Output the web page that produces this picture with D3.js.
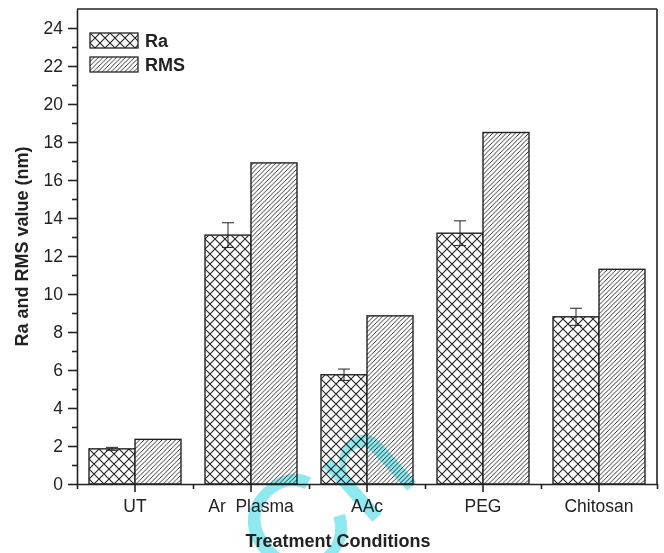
<!DOCTYPE html>
<html>
<head>
<meta charset="utf-8">
<script src="https://cdn.jsdelivr.net/npm/d3@7"></script>
<style>
  body { margin: 0; background: #fff; }
  text { font-family: Arial, "Liberation Sans", sans-serif; fill: #222; }
  .axis path, .axis line { stroke: #222; stroke-width: 1.6; }
  .axis text { font-size: 17.5px; }
</style>
</head>
<body>
<div id="chart"></div>
<script>
// data
const categories = ["UT", "Ar  Plasma", "AAc", "PEG", "Chitosan"];
const raValues = [1.85, 13.1, 5.75, 13.2, 8.8];
const raErrors = [0.08, 0.65, 0.3, 0.65, 0.45];
const rmsValues = [2.35, 16.9, 8.85, 18.5, 11.3];
const series = ["Ra", "RMS"];
const yTicks = [0, 2, 4, 6, 8, 10, 12, 14, 16, 18, 20, 22, 24];

const data = categories.map((c, i) => ({
    cat: c,
    vals: [
        { key: "Ra", v: raValues[i], err: raErrors[i] },
        { key: "RMS", v: rmsValues[i], err: null }
    ]
}));

// dimensions
const W = 664, H = 553;
const margin = { top: 9, right: 7, bottom: 69, left: 77 };
const width = W - margin.left - margin.right;
const height = H - margin.top - margin.bottom;

const root = d3.select("#chart").append("svg")
    .attr("width", W)
    .attr("height", H);

// fill patterns
const defs = root.append("defs");
const cross = defs.append("pattern")
    .attr("id", "cross")
    .attr("patternUnits", "userSpaceOnUse")
    .attr("width", 10).attr("height", 10);
cross.append("rect").attr("width", 10).attr("height", 10).attr("fill", "#fff");
cross.append("path").attr("d", "M0,0L10,10M10,0L0,10M-5,5L5,15M5,-5L15,5M-5,5L5,-5M5,15L15,5")
    .attr("stroke", "#222").attr("stroke-width", 1.1);

const diag = defs.append("pattern")
    .attr("id", "diag")
    .attr("patternUnits", "userSpaceOnUse")
    .attr("width", 4.5).attr("height", 4.5);
diag.append("rect").attr("width", 4.5).attr("height", 4.5).attr("fill", "#fff");
diag.append("path").attr("d", "M0,4.5L4.5,0M-1,1L1,-1M3.5,5.5L5.5,3.5")
    .attr("stroke", "#222").attr("stroke-width", 0.9);

const fills = { Ra: "url(#cross)", RMS: "url(#diag)" };

const svg = root.append("g")
    .attr("transform", "translate(" + margin.left + "," + margin.top + ")");

// scales
const x0 = d3.scaleBand().domain(categories).range([0, width]).paddingInner(0.207).paddingOuter(0.1035);
const x1 = d3.scaleBand().domain(series).range([0, x0.bandwidth()]);
const y = d3.scaleLinear().domain([0, 25]).range([height, 0]);

// bars
const groups = svg.selectAll(".grp")
    .data(data)
    .enter().append("g")
    .attr("class", "grp")
    .attr("transform", d => "translate(" + x0(d.cat) + ",0)");

groups.selectAll("rect")
    .data(d => d.vals)
    .enter().append("rect")
    .attr("x", d => x1(d.key))
    .attr("y", d => y(d.v))
    .attr("width", x1.bandwidth())
    .attr("height", d => height - y(d.v))
    .attr("fill", d => fills[d.key])
    .attr("stroke", "#222")
    .attr("stroke-width", 1.4);

// error bars (Ra only)
const eb = groups.selectAll(".err")
    .data(d => d.vals.filter(v => v.err !== null))
    .enter().append("g")
    .attr("class", "err")
    .attr("stroke", "#222")
    .attr("stroke-width", 1);
eb.append("line")
    .attr("x1", d => x1(d.key) + x1.bandwidth() / 2)
    .attr("x2", d => x1(d.key) + x1.bandwidth() / 2)
    .attr("y1", d => y(d.v + d.err))
    .attr("y2", d => y(d.v - d.err));
eb.append("line")
    .attr("x1", d => x1(d.key) + x1.bandwidth() / 2 - 6)
    .attr("x2", d => x1(d.key) + x1.bandwidth() / 2 + 6)
    .attr("y1", d => y(d.v + d.err))
    .attr("y2", d => y(d.v + d.err));
eb.append("line")
    .attr("x1", d => x1(d.key) + x1.bandwidth() / 2 - 6)
    .attr("x2", d => x1(d.key) + x1.bandwidth() / 2 + 6)
    .attr("y1", d => y(d.v - d.err))
    .attr("y2", d => y(d.v - d.err));

// watermark (sits under the axes, blended over the bars)
root.append("text")
    .attr("transform", "translate(290,596) rotate(-42)")
    .style("font-size", "140px")
    .style("fill", "#8fe9ee")
    .style("mix-blend-mode", "multiply")
    .text("Cn");

// axes
svg.append("g")
    .attr("class", "axis")
    .call(d3.axisLeft(y).tickValues(yTicks).tickSize(9).tickPadding(5).tickSizeOuter(0));
svg.append("g")
    .attr("class", "axis")
    .call(d3.axisLeft(y).tickValues(d3.range(1, 25, 2)).tickSize(5).tickFormat("").tickSizeOuter(0))
    .select(".domain").remove();

// x axis: major ticks at category centres, minor at group boundaries
const xAxis = svg.append("g")
    .attr("class", "axis")
    .attr("transform", "translate(0," + height + ")")
    .call(d3.axisBottom(x0).tickSize(8).tickPadding(8).tickSizeOuter(0));
svg.append("g")
    .attr("class", "axis")
    .attr("transform", "translate(0," + height + ")")
    .call(d3.axisBottom(d3.scaleLinear().domain([0, 5]).range([0, width])).tickValues([0, 1, 2, 3, 4, 5]).tickSize(5).tickFormat("").tickSizeOuter(0))
    .select(".domain").remove();
xAxis.selectAll("text").style("white-space", "pre");

// top and right frame
svg.append("line").attr("x1", 0).attr("x2", width).attr("y1", 0).attr("y2", 0)
    .attr("stroke", "#222").attr("stroke-width", 1.6);
svg.append("line").attr("x1", width).attr("x2", width).attr("y1", 0).attr("y2", height)
    .attr("stroke", "#222").attr("stroke-width", 1.6);

// axis titles
root.append("text")
    .attr("transform", "translate(28," + (margin.top + height / 2) + ") rotate(-90)")
    .attr("text-anchor", "middle")
    .style("font-size", "18px")
    .style("font-weight", "bold")
    .text("Ra and RMS value (nm)");

root.append("text")
    .attr("x", 338)
    .attr("y", 547)
    .attr("text-anchor", "middle")
    .style("font-size", "18px")
    .style("font-weight", "bold")
    .text("Treatment Conditions");

// legend
const legend = svg.selectAll(".legend")
    .data(series)
    .enter().append("g")
    .attr("class", "legend")
    .attr("transform", (d, i) => "translate(13," + (24 + i * 24) + ")");
legend.append("rect")
    .attr("width", 48).attr("height", 15)
    .attr("fill", d => fills[d])
    .attr("stroke", "#222").attr("stroke-width", 1.3);
legend.append("text")
    .attr("x", 55).attr("y", 14)
    .style("font-size", "18px")
    .style("font-weight", "bold")
    .text(d => d);
</script>
</body>
</html>
